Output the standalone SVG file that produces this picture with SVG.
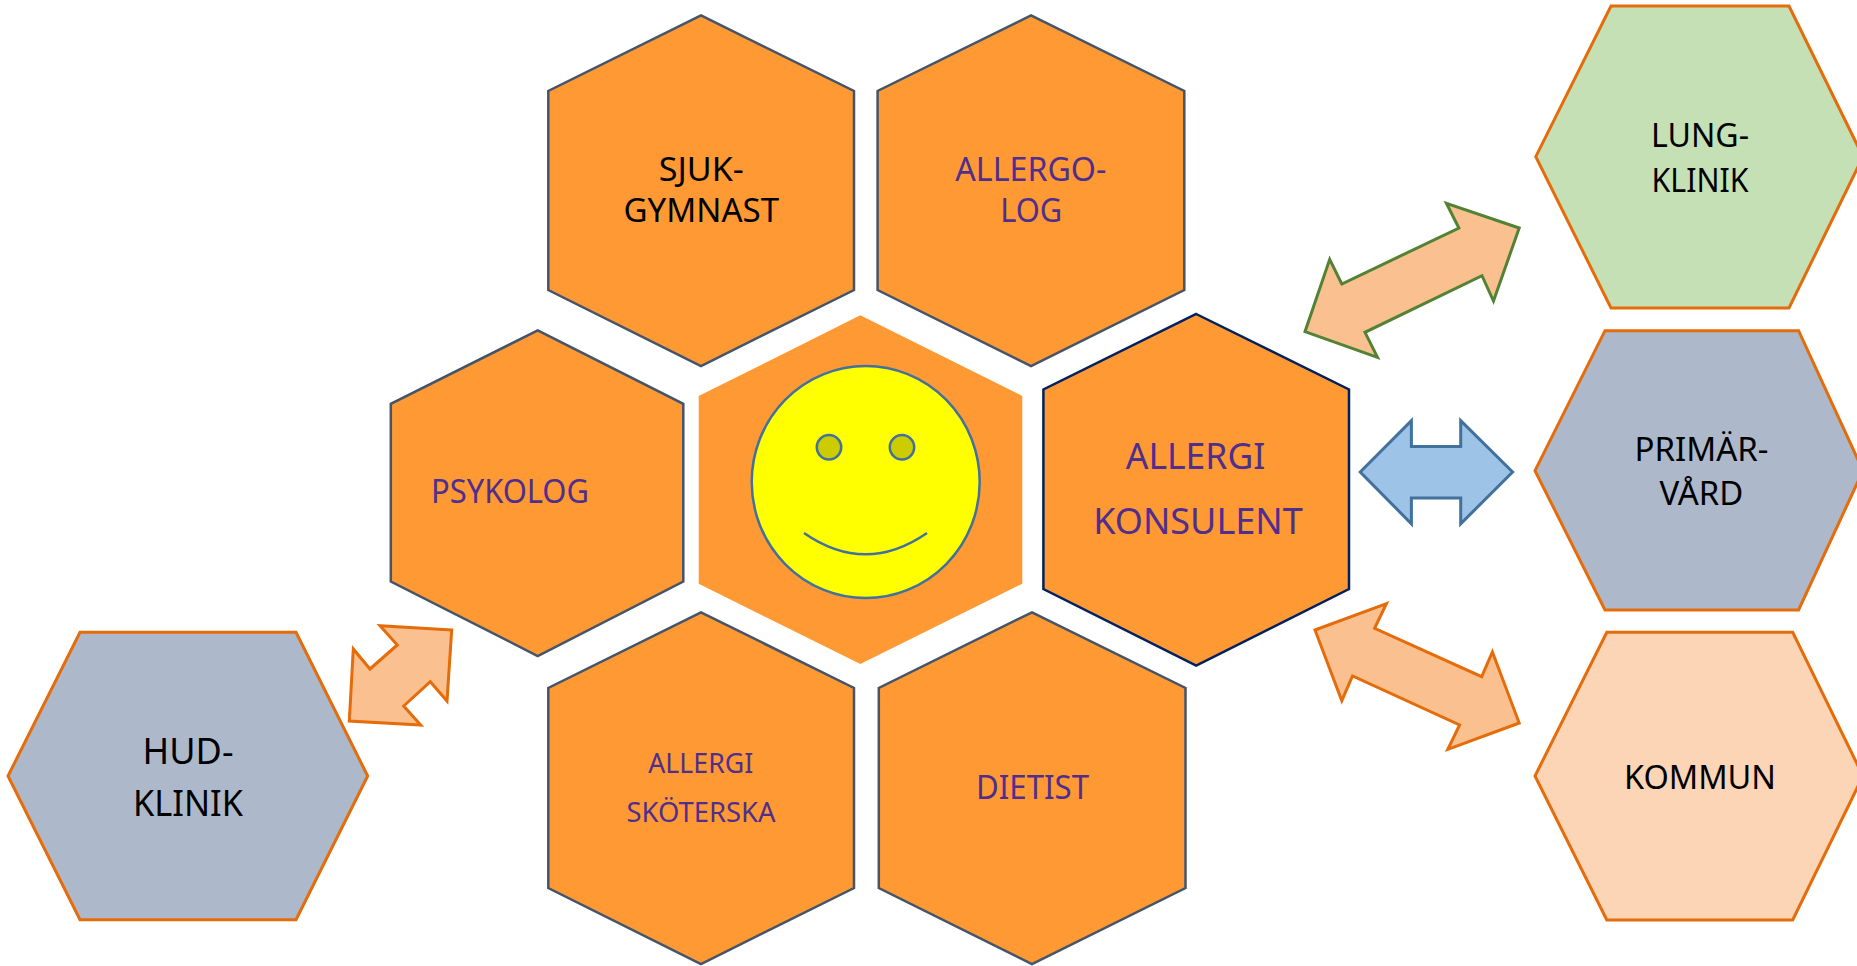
<svg xmlns="http://www.w3.org/2000/svg" width="1857" height="966" viewBox="0 0 1857 966">
<style>
.hex{fill:#FF9933;stroke:#44546A;stroke-width:2.5;stroke-linejoin:miter}
.ext{stroke:#E46C0A;stroke-width:3;stroke-linejoin:miter}
.arr{stroke-width:3;stroke-linejoin:miter}
text{font-family:"Noto Sans","Open Sans","Liberation Sans",sans-serif;text-anchor:middle;font-size:33px;fill:#000}
.p{fill:#502E8E}
.face{stroke:#41719C;stroke-width:2.5}
</style>
<rect width="1857" height="966" fill="#fff"/>
<g id="connectors">
<polygon class="arr" fill="#FAC090" stroke="#548235" points="1519.2,228 1446.4,203.3 1458.9,228 1341.8,284 1329.7,259.3 1305,331.7 1377.5,357.3 1365,332.3 1482,275.7 1493.5,301"/>
<polygon class="arr" fill="#9DC3E6" stroke="#41719C" points="1360.2,472 1411.4,420.7 1411.4,446.5 1460.7,446.5 1460.7,420.7 1512.6,472 1460.7,523.8 1460.7,498 1411.4,498 1411.4,523.8"/>
<polygon class="arr" fill="#FAC090" stroke="#E46C0A" points="1315,630 1386.4,603.7 1374.6,628.3 1481.7,676.7 1492.4,652 1519.2,723 1447.8,749.3 1459.6,725 1352.5,676 1341.8,700.7"/>
<polygon class="arr" fill="#FAC090" stroke="#E46C0A" points="451.7,630 380,625.7 397.3,645 370,669 353.3,649 349.3,721 420.7,725 403.7,706 430.3,681.7 447,701"/>
</g>
<g id="sjukgymnast">
<polygon class="hex" points="701,15.4 854,91 854,290 701,366 548.3,290 548.3,91"/>
<text x="701.3" y="181" textLength="85" lengthAdjust="spacingAndGlyphs">SJUK-</text>
<text x="701.3" y="221.7" textLength="155.5" lengthAdjust="spacingAndGlyphs">GYMNAST</text>
</g>
<g id="allergolog">
<polygon class="hex" points="1031,15.4 1184.3,91 1184.3,290 1031,366 877.6,290 877.6,91"/>
<text class="p" x="1030.8" y="181" textLength="151" lengthAdjust="spacingAndGlyphs">ALLERGO-</text>
<text class="p" x="1031.3" y="221.7" textLength="62" lengthAdjust="spacingAndGlyphs">LOG</text>
</g>
<g id="allergikonsulent">
<polygon class="hex" style="stroke:#002060" points="1196.2,314 1349,389.5 1349,589 1196.2,665.6 1043.4,589 1043.4,389.5"/>
<text class="p" style="font-size:36.5px" x="1195.5" y="468.7" textLength="139.5" lengthAdjust="spacingAndGlyphs">ALLERGI</text>
<text class="p" style="font-size:36.5px" x="1198" y="533.7" textLength="209.5" lengthAdjust="spacingAndGlyphs">KONSULENT</text>
</g>
<g id="psykolog">
<polygon class="hex" points="537.7,330.4 683.3,403.8 683.3,581.5 537.7,656 390.8,581.5 390.8,403.8"/>
<text class="p" x="510" y="503.3" textLength="158" lengthAdjust="spacingAndGlyphs">PSYKOLOG</text>
</g>
<g id="allergiskoterska">
<polygon class="hex" points="701,612.3 854,688 854,888 701,964 548.3,888 548.3,688"/>
<text class="p" style="font-size:28px" x="700.8" y="773.3" textLength="105" lengthAdjust="spacingAndGlyphs">ALLERGI</text>
<text class="p" style="font-size:28px" x="701" y="822" textLength="149" lengthAdjust="spacingAndGlyphs">SKÖTERSKA</text>
</g>
<g id="dietist">
<polygon class="hex" points="1032,612.3 1185.5,688 1185.5,888 1032,964 878.8,888 878.8,688"/>
<text class="p" x="1032.5" y="799" textLength="113" lengthAdjust="spacingAndGlyphs">DIETIST</text>
</g>
<g id="center">
<polygon fill="#FF9933" points="860.3,315.3 1022.3,396 1022.3,583.7 860.3,664 698.7,583.7 698.7,396"/>
<ellipse class="face" fill="#FFFF00" cx="865.7" cy="482" rx="114" ry="116"/>
<circle class="face" fill="#CCCC00" cx="829" cy="447.3" r="12.2"/>
<circle class="face" fill="#CCCC00" cx="902" cy="447.3" r="12.2"/>
<path class="face" fill="none" d="M804,533 Q865.5,575.7 927,533"/>
</g>
<g id="lungklinik">
<polygon class="ext" fill="#C5E0B4" points="1611,6 1789,6 1863,156.7 1789,308 1611,308 1535.8,156.7"/>
<text x="1700" y="146.7" textLength="98" lengthAdjust="spacingAndGlyphs">LUNG-</text>
<text x="1700" y="191.7" textLength="97" lengthAdjust="spacingAndGlyphs">KLINIK</text>
</g>
<g id="primarvard">
<polygon class="ext" fill="#ADB9CA" points="1605,330.7 1798.6,330.7 1863,470.7 1798.6,610 1605,610 1535,470.7"/>
<text x="1701.5" y="460.7" textLength="134" lengthAdjust="spacingAndGlyphs">PRIMÄR-</text>
<text x="1701.4" y="505" textLength="84" lengthAdjust="spacingAndGlyphs">VÅRD</text>
</g>
<g id="kommun">
<polygon class="ext" fill="#FBD5B5" points="1606.8,632.3 1792.7,632.3 1863,776 1792.7,920 1606.8,920 1535,776"/>
<text x="1700" y="788.7" textLength="152" lengthAdjust="spacingAndGlyphs">KOMMUN</text>
</g>
<g id="hudklinik">
<polygon class="ext" fill="#ADB9CA" points="80,632.3 296,632.3 367.7,776 296,919.7 80,919.7 8,776"/>
<text style="font-size:36.5px" x="188" y="764.3" textLength="91" lengthAdjust="spacingAndGlyphs">HUD-</text>
<text style="font-size:36.5px" x="188" y="815.7" textLength="110" lengthAdjust="spacingAndGlyphs">KLINIK</text>
</g>
</svg>
